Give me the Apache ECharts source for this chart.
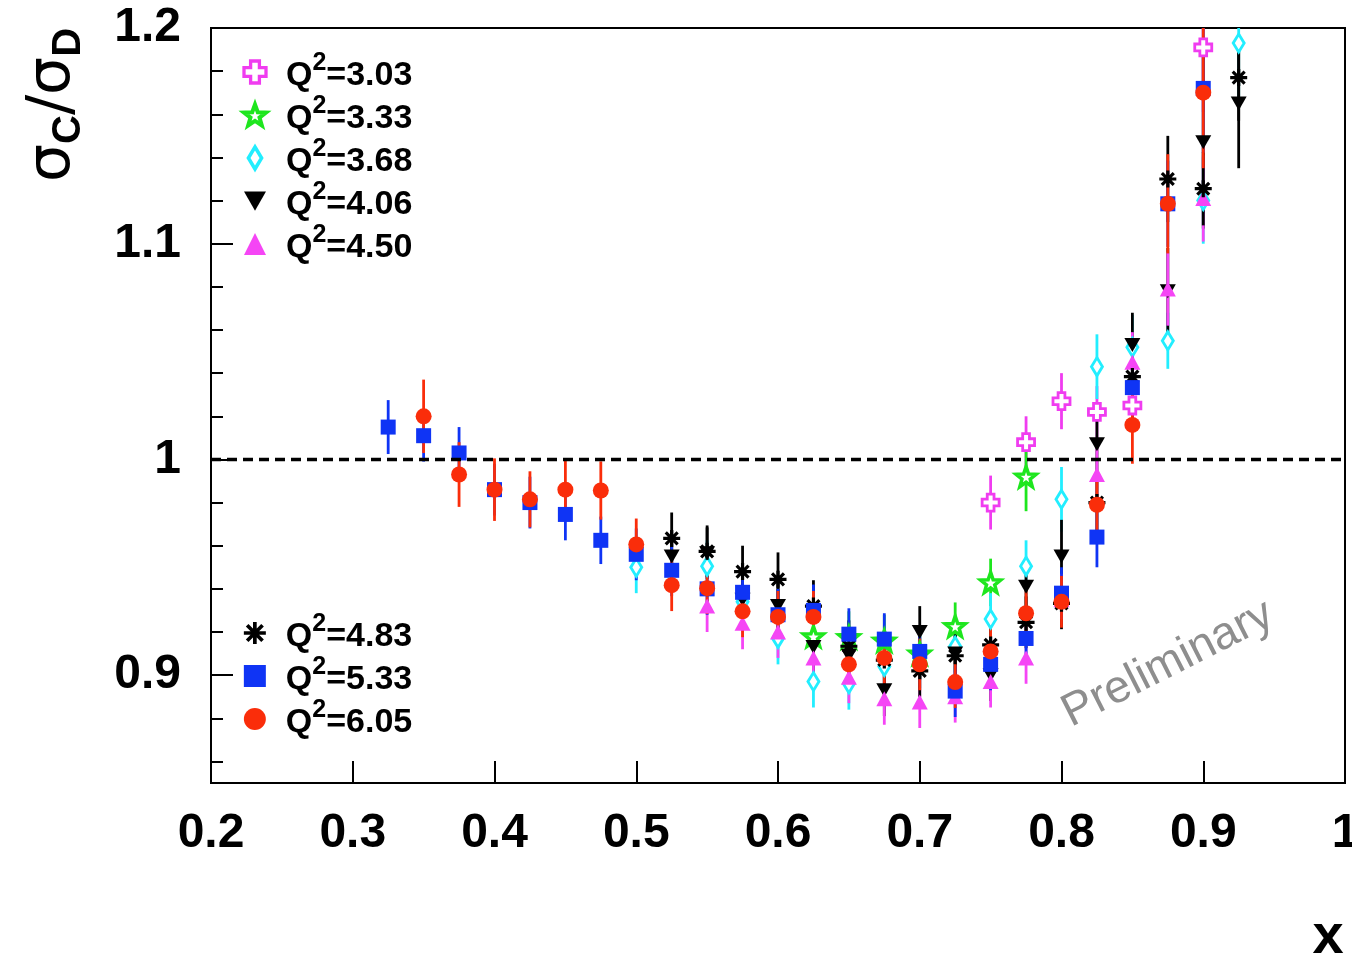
<!DOCTYPE html>
<html><head><meta charset="utf-8">
<script src="https://cdn.jsdelivr.net/npm/echarts@6/dist/echarts.min.js"></script>
<style>html,body{margin:0;padding:0;background:#fff}#c{width:1352px;height:962px}</style>
</head><body><div id="c"></div>
<script>
// ---- data (x, sigma_C/sigma_D, stat. error) ----
const q303X = [0.75, 0.775, 0.8, 0.825, 0.85, 0.9];
const q303Y = [0.980, 1.008, 1.027, 1.022, 1.025, 1.191];
const q303E = [0.0125, 0.012, 0.013, 0.012, 0.012, 0.03];

const q333X = [0.625, 0.65, 0.675, 0.7, 0.725, 0.75, 0.775];
const q333Y = [0.918, 0.9176, 0.916, 0.910, 0.9227, 0.943, 0.992];
const q333E = [0.012, 0.012, 0.012, 0.012, 0.011, 0.011, 0.016];

const q368X = [0.5, 0.55, 0.575, 0.6, 0.625, 0.65, 0.675, 0.7, 0.725, 0.75, 0.775, 0.8, 0.825, 0.85, 0.875, 0.9, 0.925];
const q368Y = [0.950, 0.9505, 0.934, 0.917, 0.897, 0.896, 0.904, 0.906, 0.9134, 0.926, 0.9505, 0.9815, 1.043, 1.052, 1.055, 1.120, 1.193];
const q368E = [0.012, 0.012, 0.012, 0.012, 0.012, 0.012, 0.012, 0.012, 0.012, 0.012, 0.012, 0.015, 0.015, 0.015, 0.013, 0.02, 0.03];

const q406X = [0.525, 0.55, 0.575, 0.6, 0.625, 0.65, 0.675, 0.7, 0.725, 0.75, 0.775, 0.8, 0.825, 0.85, 0.875, 0.9, 0.925];
const q406Y = [0.955, 0.9565, 0.935, 0.932, 0.913, 0.909, 0.893, 0.920, 0.910, 0.900, 0.941, 0.955, 1.007, 1.053, 1.078, 1.147, 1.165];
const q406E = [0.012, 0.012, 0.012, 0.012, 0.012, 0.012, 0.012, 0.012, 0.012, 0.012, 0.012, 0.017, 0.017, 0.015, 0.02, 0.04, 0.03];

const q450X = [0.55, 0.575, 0.6, 0.625, 0.65, 0.675, 0.7, 0.725, 0.75, 0.775, 0.8, 0.825, 0.85, 0.875, 0.9];
const q450Y = [0.932, 0.924, 0.920, 0.908, 0.899, 0.889, 0.8875, 0.890, 0.897, 0.908, 0.935, 0.993, 1.045, 1.079, 1.121];
const q450E = [0.012, 0.012, 0.012, 0.012, 0.012, 0.012, 0.012, 0.012, 0.012, 0.012, 0.012, 0.013, 0.014, 0.017, 0.02];

const q483X = [0.525, 0.55, 0.575, 0.6, 0.625, 0.65, 0.675, 0.7, 0.725, 0.75, 0.775, 0.8, 0.825, 0.85, 0.875, 0.9, 0.925];
const q483Y = [0.9634, 0.9574, 0.948, 0.9444, 0.932, 0.9134, 0.907, 0.902, 0.909, 0.914, 0.9245, 0.9333, 0.980, 1.0384, 1.130, 1.1255, 1.177];
const q483E = [0.012, 0.012, 0.012, 0.0125, 0.012, 0.012, 0.012, 0.012, 0.012, 0.012, 0.012, 0.012, 0.013, 0.014, 0.02, 0.017, 0.02];

const q533X = [0.325, 0.35, 0.375, 0.4, 0.425, 0.45, 0.475, 0.5, 0.525, 0.55, 0.575, 0.6, 0.625, 0.65, 0.675, 0.7, 0.725, 0.75, 0.775, 0.8, 0.825, 0.85, 0.875, 0.9];
const q533Y = [1.015, 1.011, 1.003, 0.986, 0.980, 0.9745, 0.9625, 0.956, 0.9486, 0.940, 0.9384, 0.928, 0.930, 0.919, 0.9167, 0.911, 0.8926, 0.905, 0.917, 0.938, 0.964, 1.0333, 1.1185, 1.172];
const q533E = [0.0125, 0.012, 0.012, 0.012, 0.012, 0.012, 0.011, 0.012, 0.012, 0.012, 0.012, 0.012, 0.012, 0.012, 0.012, 0.012, 0.012, 0.012, 0.012, 0.012, 0.014, 0.014, 0.02, 0.03];

const q605X = [0.35, 0.375, 0.4, 0.425, 0.45, 0.475, 0.5, 0.525, 0.55, 0.575, 0.6, 0.625, 0.65, 0.675, 0.7, 0.725, 0.75, 0.775, 0.8, 0.825, 0.85, 0.875, 0.9];
const q605Y = [1.020, 0.993, 0.986, 0.9815, 0.986, 0.9856, 0.9606, 0.9417, 0.9403, 0.9296, 0.927, 0.927, 0.905, 0.908, 0.905, 0.8968, 0.911, 0.9287, 0.934, 0.979, 1.016, 1.1185, 1.170];
const q605E = [0.017, 0.015, 0.0145, 0.013, 0.014, 0.0135, 0.012, 0.012, 0.012, 0.012, 0.012, 0.012, 0.012, 0.012, 0.012, 0.012, 0.012, 0.012, 0.012, 0.014, 0.018, 0.023, 0.035];

const seriesNames = ['3.03', '3.33', '3.68', '4.06', '4.50', '4.83', '5.33', '6.05'];
const yMajorTicks = [0.9, 1.0, 1.1, 1.2];
const yMinorTicks = [0.86, 0.88, 0.92, 0.94, 0.96, 0.98, 1.02, 1.04, 1.06, 1.08, 1.12, 1.14, 1.16, 1.18];
const referenceLine = 1.0;

// ---- build ----
const zip = (x, y, e) => x.map((v, i) => [v, y[i], e[i]]);
const STAR = 'path://M10,0L12.4,6.7L19.5,6.9L13.9,11.3L15.9,18.1L10,14.1L4.1,18.1L6.1,11.3L0.5,6.9L7.6,6.7Z';
const CROSS = 'path://M6,0H14V6H20V14H14V20H6V14H0V6H6Z';
const DIAMOND = 'path://M6,0L12,10L6,20L0,10Z';
const ASTER = 'path://M0,10L20,10M10,0L10,20M3,3L17,17M17,3L3,17';
const DOWNTRI = 'path://M0,0L16,0L8,14Z';

const groups = [
  { name: seriesNames[0], data: zip(q303X, q303Y, q303E), color: '#f03cf0', symbol: CROSS, size: 17, style: { color: '#ffffff', borderColor: '#f03cf0', borderWidth: 2.8 } },
  { name: seriesNames[1], data: zip(q333X, q333Y, q333E), color: '#1ee61e', symbol: STAR, size: 20, style: { color: '#ffffff', borderColor: '#1ee61e', borderWidth: 3.5 } },
  { name: seriesNames[2], data: zip(q368X, q368Y, q368E), color: '#22eeff', symbol: DIAMOND, size: [11, 18], style: { color: '#ffffff', borderColor: '#22eeff', borderWidth: 3 } },
  { name: seriesNames[3], data: zip(q406X, q406Y, q406E), color: '#000000', symbol: DOWNTRI, size: [16, 14], style: { color: '#000000' } },
  { name: seriesNames[4], data: zip(q450X, q450Y, q450E), color: '#f545f5', symbol: 'triangle', size: [16, 15], style: { color: '#f545f5' } },
  { name: seriesNames[5], data: zip(q483X, q483Y, q483E), color: '#000000', symbol: ASTER, size: 17, style: { color: 'rgba(0,0,0,0)', borderColor: '#000000', borderWidth: 3.2 } },
  { name: seriesNames[6], data: zip(q533X, q533Y, q533E), color: '#0f34f5', symbol: 'rect', size: 15, style: { color: '#0f34f5' } },
  { name: seriesNames[7], data: zip(q605X, q605Y, q605E), color: '#fa2d0a', symbol: 'circle', size: 16, style: { color: '#fa2d0a' } }
];

const series = [];
groups.forEach(g => {
  series.push({
    type: 'custom', name: 'err' + g.name, data: g.data, clip: true, silent: true,
    encode: { x: 0, y: 1 },
    renderItem: (params, api) => {
      const x = api.value(0), y = api.value(1), e = api.value(2);
      const a = api.coord([x, y + e]), b = api.coord([x, y - e]);
      return { type: 'line', shape: { x1: a[0], y1: a[1], x2: b[0], y2: b[1] }, style: { stroke: g.color, lineWidth: 2.8 } };
    }
  });
  series.push({
    type: 'scatter', name: g.name, data: g.data, symbol: g.symbol, symbolSize: g.size,
    itemStyle: Object.assign({ opacity: 1 }, g.style),
    encode: { x: 0, y: 1 }, silent: true
  });
});
series.push({
  type: 'line', name: 'ref', data: [[0.2, referenceLine], [1.0, referenceLine]], symbol: 'none', silent: true, z: 5,
  lineStyle: { color: '#000', width: 3.5, type: [10, 6] }
});

const legendText = {
  color: '#000',
  rich: {
    sp: { width: 15, lineHeight: 42 },
    b: { fontSize: 34, fontWeight: 'bold', fontFamily: 'Liberation Sans', lineHeight: 36, verticalAlign: 'bottom', color: '#000' },
    sup: { fontSize: 25, fontWeight: 'bold', fontFamily: 'Liberation Sans', verticalAlign: 'top', color: '#000' }
  }
};
const legendFmt = n => '{sp|}{b|Q}{sup|2}{b|=' + n + '}';
const legendItem = (g) => ({ name: g.name, itemStyle: Object.assign({}, g.style, g.style.borderWidth ? { borderWidth: g.style.borderWidth + 0.5 } : {}) });
const legendBase = { orient: 'vertical', left: 242, padding: 0, itemGap: 1, itemWidth: 22, itemHeight: 22, selectedMode: false, formatter: legendFmt, textStyle: legendText };

const chart = echarts.init(document.getElementById('c'), null, { renderer: 'canvas' });
chart.setOption({
  animation: false,
  backgroundColor: '#fff',
  grid: { left: 211, right: 7, top: 28, bottom: 179, show: true, borderColor: '#000', borderWidth: 2, backgroundColor: 'transparent', containLabel: false, outerBoundsMode: 'none' },
  xAxis: {
    type: 'value', min: 0.2, max: 1.0, interval: 0.1,
    axisLine: { show: true, onZero: false, lineStyle: { color: '#000', width: 2 } },
    axisTick: { inside: true, length: 22, lineStyle: { color: '#000', width: 2 } },
    axisLabel: { fontSize: 48, fontWeight: 'bold', fontFamily: 'Liberation Sans', color: '#000', margin: 27, showMaxLabel: true, showMinLabel: true },
    splitLine: { show: false }
  },
  yAxis: [{
    type: 'value', min: 0.85, max: 1.2,
    axisLine: { show: true, onZero: false, lineStyle: { color: '#000', width: 2 } },
    axisTick: { inside: true, length: 22, customValues: yMajorTicks, lineStyle: { color: '#000', width: 2 } },
    axisLabel: { customValues: yMajorTicks, fontSize: 48, fontWeight: 'bold', fontFamily: 'Liberation Sans', color: '#000', margin: 30 },
    splitLine: { show: false }
  }, {
    type: 'value', min: 0.85, max: 1.2, position: 'left', offset: 0,
    axisLine: { show: false },
    axisTick: { show: true, inside: true, length: 12, customValues: yMinorTicks, lineStyle: { color: '#000', width: 2 } },
    axisLabel: { show: false },
    splitLine: { show: false }
  }],
  legend: [
    Object.assign({}, legendBase, { top: 51, data: groups.slice(0, 5).map(legendItem) }),
    Object.assign({}, legendBase, { top: 612, data: groups.slice(5).map(legendItem) })
  ],
  graphic: [
    { type: 'text', x: 56, y: 105, rotation: Math.PI / 2, silent: true,
      style: { text: '{g|σ}{s|C}{g|/σ}{s|D}', align: 'center', verticalAlign: 'middle',
        rich: {
          g: { fontSize: 60, fontFamily: 'DejaVu Sans', lineHeight: 66, verticalAlign: 'top', fill: '#000', color: '#000' },
          s: { fontSize: 40, fontWeight: 'bold', fontFamily: 'Liberation Sans', verticalAlign: 'bottom', fill: '#000', color: '#000' }
        } } },
    { type: 'text', x: 1328, y: 938, silent: true,
      style: { text: 'x', font: 'bold 56px "Liberation Sans"', fill: '#000', align: 'center', verticalAlign: 'middle' } },
    { type: 'text', x: 1168, y: 664, rotation: 26.8 * Math.PI / 180, silent: true,
      style: { text: 'Preliminary', font: '46px "Liberation Sans"', fill: '#8e8e8e', align: 'center', verticalAlign: 'middle' } }
  ],
  series: series
});
</script>
</body></html>
